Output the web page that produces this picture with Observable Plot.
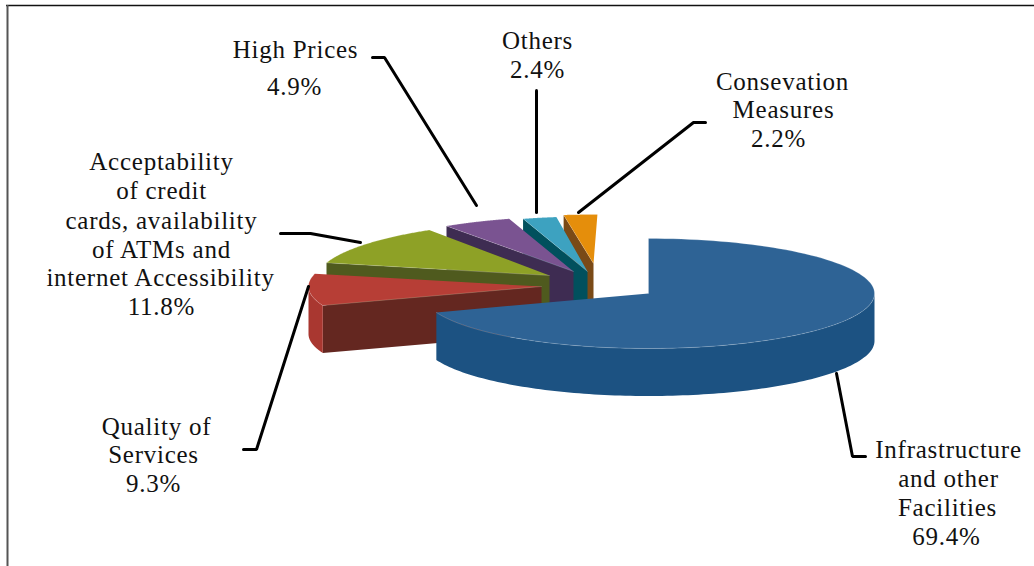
<!DOCTYPE html>
<html>
<head>
<meta charset="utf-8">
<script src="https://cdn.jsdelivr.net/npm/d3@7"></script>
<script src="https://cdn.jsdelivr.net/npm/@observablehq/plot@0.6"></script>
<style>
  html, body { margin: 0; padding: 0; background: #fff; }
  svg { display: block; }
</style>
</head>
<body>
<div id="chart"></div>
<script>
// Survey shares, clockwise from twelve o'clock
const categories = [
  "Infrastructure and other Facilities",
  "Quality of Services",
  "Acceptability of credit cards, availability of ATMs and internet Accessibility",
  "High Prices",
  "Others",
  "Consevation Measures"
];
const shares = [69.4, 9.3, 11.8, 4.9, 2.4, 2.2];

// Slice appearance
const topColors = ["#2E6395", "#B73E36", "#8EA126", "#7A5391", "#3DA2C0", "#E58E0B"];
const cutColors = ["#1C5282", "#642720", "#4F5A1E", "#3E2C52", "#01505D", "#7A4A17"];
const rimColors = ["#1C5282", "#A93730", "#4F5A1E", "#3E2C52", "#01505D", "#7A4A17"];

// Exploded position and radii of each slice on the tilted plane
const apexX = [648, 541, 549, 573, 587, 593];
const apexY = [293, 286, 275, 271, 271, 263];
const radiusX = [226, 233, 232, 226, 226, 245];
const radiusY = [55, 55, 55, 55, 55, 49];
const shear = [0, 0, -0.22, 0, 0, -0.08];
const depth = 47.5;

// Text blocks: one row per line
const labelLines = [
  ["High Prices", 295, 49], ["4.9%", 294, 86],
  ["Others", 537, 40], ["2.4%", 537, 69],
  ["Consevation", 782, 81], ["Measures", 783, 109], ["2.2%", 778, 138],
  ["Acceptability", 161, 161], ["of credit", 161, 190], ["cards, availability", 161, 220],
  ["of ATMs and", 161, 249], ["internet Accessibility", 160, 277], ["11.8%", 161, 306],
  ["Quality of", 156, 426], ["Services", 153, 454], ["9.3%", 153, 483],
  ["Infrastructure", 948, 449], ["and other", 948, 478], ["Facilities", 947, 507], ["69.4%", 946, 536]
];

// Leader polylines from label to slice
const leaders = [
  [[372, 57], [384, 57], [476, 205]],
  [[536, 90], [536, 212]],
  [[705, 122], [693, 122], [578, 212]],
  [[280, 233], [310, 233], [360, 242]],
  [[243, 449], [256, 449], [308, 286]],
  [[836, 373], [852, 456], [865, 456]]
];

// Build the visible faces of every wedge from its share of the total
const total = d3.sum(shares);
const cumulative = d3.cumsum(shares);
const faces = [];
categories.forEach((name, i) => {
  const t1 = ((cumulative[i] - shares[i]) / total) * 2 * Math.PI;
  const t2 = (cumulative[i] / total) * 2 * Math.PI;
  const rim = (t, lift = 0) => {
    const dy = -radiusY[i] * Math.cos(t);
    return [apexX[i] + radiusX[i] * Math.sin(t) + shear[i] * dy, apexY[i] + dy + lift];
  };
  const sweep = (a, b) => d3.range(0, 121).map((k) => a + ((b - a) * k) / 120);
  const apex = [apexX[i], apexY[i]];
  const apexLow = [apexX[i], apexY[i] + depth];
  const add = (part, fill, pts, stroke = "none") =>
    pts.forEach(([x, y]) => faces.push({key: `${i}-${part}`, part, slice: i, x, y, fill, stroke}));
  // The cut edge facing the viewer
  add("cut", cutColors[i], [apex, rim(t1), rim(t1, depth), apexLow]);
  // Outer wall: only the front half of the ellipse can be seen
  const a = Math.max(t1, Math.PI / 2);
  const b = Math.min(t2, (3 * Math.PI) / 2);
  if (b > a) {
    const arc = sweep(a, b);
    add("outer", rimColors[i], [...arc.map((t) => rim(t)), ...arc.slice().reverse().map((t) => rim(t, depth))]);
  }
  add("top", topColors[i], [apex, ...sweep(t1, t2).map((t) => rim(t))], "#ffffff");
});

// Painter's order: the last slice lies farthest back, the largest sits in front
const order = d3.range(categories.length).reverse();
const ordered = order.flatMap((i) =>
  ["cut", "outer", "top"].flatMap((part) => faces.filter((f) => f.slice === i && f.part === part))
);
const leaderRows = leaders.flatMap((pts, id) => pts.map(([x, y]) => ({id, x, y})));

const plot = Plot.plot({
  width: 1034,
  height: 566,
  margin: 0,
  axis: null,
  x: {domain: [0, 1034], range: [0, 1034]},
  y: {domain: [0, 566], range: [0, 566]},
  style: {background: "#fff", letterSpacing: "0.75px"},
  marks: [
    Plot.ruleY([5], {x1: 6, x2: 1034, stroke: "#111", strokeWidth: 1.5}),
    Plot.ruleX([7], {y1: 5, y2: 566, stroke: "#555", strokeWidth: 2}),
    Plot.line(ordered, {
      x: "x", y: "y", z: "key", fill: "fill", stroke: "stroke",
      strokeWidth: 0.6, strokeOpacity: 0.3, curve: "linear", sort: null
    }),
    Plot.line(leaderRows, {
      x: "x", y: "y", z: "id", stroke: "#000", strokeWidth: 3,
      strokeLinejoin: "miter", curve: "linear"
    }),
    Plot.text(labelLines, {
      x: (d) => d[1], y: (d) => d[2], text: (d) => d[0],
      fontFamily: "Liberation Serif", fontSize: 25, fill: "#111",
      textAnchor: "middle", lineAnchor: "middle"
    })
  ]
});
document.getElementById("chart").appendChild(plot);
</script>
</body>
</html>
